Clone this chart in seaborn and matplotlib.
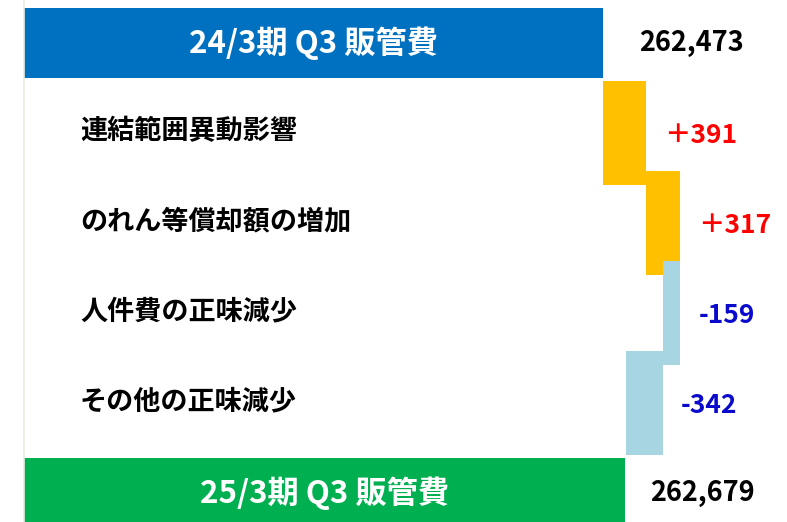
import matplotlib
matplotlib.use("Agg")
import matplotlib.pyplot as plt
import seaborn as sns

# data
start_label = "24/3期 Q3 販管費"
end_label = "25/3期 Q3 販管費"
start_value = 262473
end_value = 262679
items = ["連結範囲異動影響", "のれん等償却額の増加", "人件費の正味減少", "その他の正味減少"]
changes = [391, 317, -159, -342]
change_text = ["＋391", "＋317", "-159", "-342"]

sns.set_theme(style="white")
plt.rcParams["font.family"] = ["Noto Sans CJK JP", "DejaVu Sans"]

fig = plt.figure(figsize=(7.87, 5.22), dpi=100)
ax = fig.add_axes([24 / 787, 0, 1 - 24 / 787, 1])

x_left, x_right = 257151, 264164

# build the waterfall rows: (left, width, colour, bar height)
rows = [(0, start_value, "#0070C0", 0.78)]
prev = start_value
for c in changes:
    col = "#FFC000" if c > 0 else "#A8D5E2"
    rows.append((min(prev, prev + c), abs(c), col, 1.16))
    prev += c
rows.append((0, end_value, "#00B050", 0.78))

for i, (left, w, col, h) in enumerate(rows):
    sns.barplot(x=[w], y=[i], left=left, orient="y", native_scale=True,
                color=col, width=h, errorbar=None, saturation=1,
                linewidth=0, ax=ax)

ax.set_xlim(x_left, x_right)
ax.set_ylim(5.322, -0.478)
ax.set_xticks([])
ax.set_yticks([])
ax.set_xlabel("")
ax.set_ylabel("")
for s in ["top", "right", "bottom"]:
    ax.spines[s].set_visible(False)
ax.spines["left"].set_color("#ebebe0")
ax.spines["left"].set_linewidth(1.2)

# totals
last = len(rows) - 1
ax.text((x_left + start_value) / 2, 0, start_label, ha="center", va="center",
        color="white", fontsize=22.5, fontweight="bold")
ax.text((x_left + end_value) / 2, last, end_label, ha="center", va="center",
        color="white", fontsize=22.5, fontweight="bold")
ax.text(start_value + 330, 0, f"{start_value:,}", ha="left", va="center",
        color="black", fontsize=19.5, fontweight="bold")
ax.text(end_value + 230, last, f"{end_value:,}", ha="left", va="center",
        color="black", fontsize=19.5, fontweight="bold")

# steps
trans = ax.get_yaxis_transform()
prev = start_value
for i, (name, c, t) in enumerate(zip(items, changes, change_text), start=1):
    ax.text(0.0734, i - 0.02, name, transform=trans, ha="left", va="center",
            color="black", fontsize=19.5, fontweight="bold")
    col = "#ff0000" if c > 0 else "#0a0acc"
    ax.text(max(prev, prev + c) + 170, i + 0.03, t, ha="left", va="center",
            color=col, fontsize=19, fontweight="bold")
    prev += c

fig.savefig("out.png", dpi=100, facecolor="white")
